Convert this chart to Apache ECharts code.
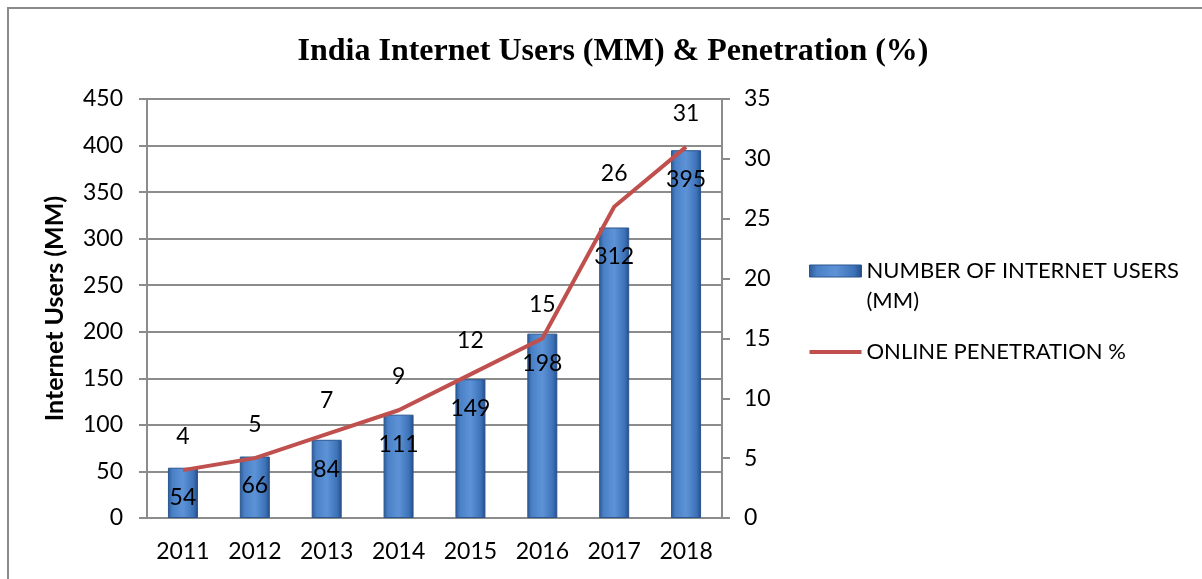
<!DOCTYPE html>
<html>
<head>
<meta charset="utf-8">
<script src="https://cdn.jsdelivr.net/npm/echarts@6/dist/echarts.min.js"></script>
<style>
  html, body { margin: 0; padding: 0; background: #fff; }
  #chart { width: 1202px; height: 579px; }
</style>
</head>
<body>
<div id="chart"></div>
<script>
// chart data
const years = ['2011', '2012', '2013', '2014', '2015', '2016', '2017', '2018']
const users = [54, 66, 84, 111, 149, 198, 312, 395]
const penetration = [4, 5, 7, 9, 12, 15, 26, 31]

const font = 'Lato, "Open Sans", sans-serif'
const usersName = 'NUMBER OF INTERNET USERS\n(MM)'
const penName = 'ONLINE PENETRATION %'

const barColor = new echarts.graphic.LinearGradient(0, 0, 1, 0, [
  { offset: 0, color: '#2c5a96' },
  { offset: 0.15, color: '#4a80c6' },
  { offset: 0.5, color: '#5d93d6' },
  { offset: 0.85, color: '#3d72b8' },
  { offset: 1, color: '#244d85' }
])

const chart = echarts.init(document.getElementById('chart'))
chart.setOption({
  animation: false,
  textStyle: { fontFamily: font, color: '#000' },
  graphic: [
    {
      type: 'rect',
      shape: { x: 8, y: 8, width: 1400, height: 800 },
      style: { fill: 'none', stroke: '#8a8a8a', lineWidth: 2 },
      silent: true
    }
  ],
  title: {
    text: 'India Internet Users (MM) & Penetration (%)',
    left: 608,
    textAlign: 'center',
    top: 31,
    textStyle: {
      fontFamily: '"Liberation Serif", serif',
      fontWeight: 'bold',
      fontSize: 32,
      color: '#000'
    }
  },
  legend: {
    orient: 'vertical',
    left: 804,
    top: 221,
    itemWidth: 52,
    itemHeight: 12,
    itemGap: 21,
    // blank first line keeps the bar icon level with the first text line
    formatter: name => (name === usersName ? ' \n' + name : name),
    textStyle: { fontFamily: font, fontSize: 22, color: '#000', lineHeight: 30 },
    data: [
      {
        name: usersName,
        icon: 'rect',
        itemStyle: { color: barColor, borderColor: '#2a558f', borderWidth: 1 }
      },
      {
        name: penName,
        icon: 'path://M0,0h52v4H0z',
        itemStyle: { color: '#c0504d' }
      }
    ]
  },
  grid: { left: 147, right: 480, top: 99, bottom: 61 },
  xAxis: {
    type: 'category',
    data: years,
    axisLine: { lineStyle: { color: '#8c8c8c', width: 2 } },
    axisTick: { show: false },
    axisLabel: { fontSize: 23, color: '#000', margin: 22 }
  },
  yAxis: [
    {
      type: 'value',
      min: 0,
      max: 450,
      interval: 50,
      name: 'Internet Users (MM)',
      nameLocation: 'middle',
      nameGap: 80,
      nameTextStyle: { fontSize: 25, fontWeight: 'bold', color: '#000' },
      axisLine: { show: true, lineStyle: { color: '#8c8c8c', width: 2 } },
      axisTick: { show: true, length: 8, lineStyle: { color: '#8c8c8c', width: 2 } },
      axisLabel: { fontSize: 23, color: '#000', margin: 24 },
      splitLine: { lineStyle: { color: '#8c8c8c', width: 2 } }
    },
    {
      type: 'value',
      min: 0,
      max: 35,
      interval: 5,
      axisLine: { show: true, lineStyle: { color: '#8c8c8c', width: 2 } },
      axisTick: { show: true, length: 8, lineStyle: { color: '#8c8c8c', width: 2 } },
      axisLabel: { fontSize: 23, color: '#000', margin: 22 },
      splitLine: { show: false }
    }
  ],
  series: [
    {
      name: usersName,
      type: 'bar',
      data: users,
      barWidth: 30,
      itemStyle: { color: barColor, borderColor: '#2a558f', borderWidth: 1 },
      label: {
        show: true,
        position: 'insideTop',
        distance: 18,
        fontSize: 23,
        color: '#000',
        fontFamily: font
      }
    },
    {
      name: penName,
      type: 'line',
      yAxisIndex: 1,
      data: penetration,
      symbol: 'circle',
      symbolSize: 0,
      lineStyle: { color: '#c0504d', width: 4 },
      itemStyle: { color: '#c0504d' },
      label: {
        show: true,
        position: 'top',
        distance: 22,
        fontSize: 23,
        color: '#000',
        fontFamily: font
      },
      z: 5
    }
  ]
})
</script>
</body>
</html>
